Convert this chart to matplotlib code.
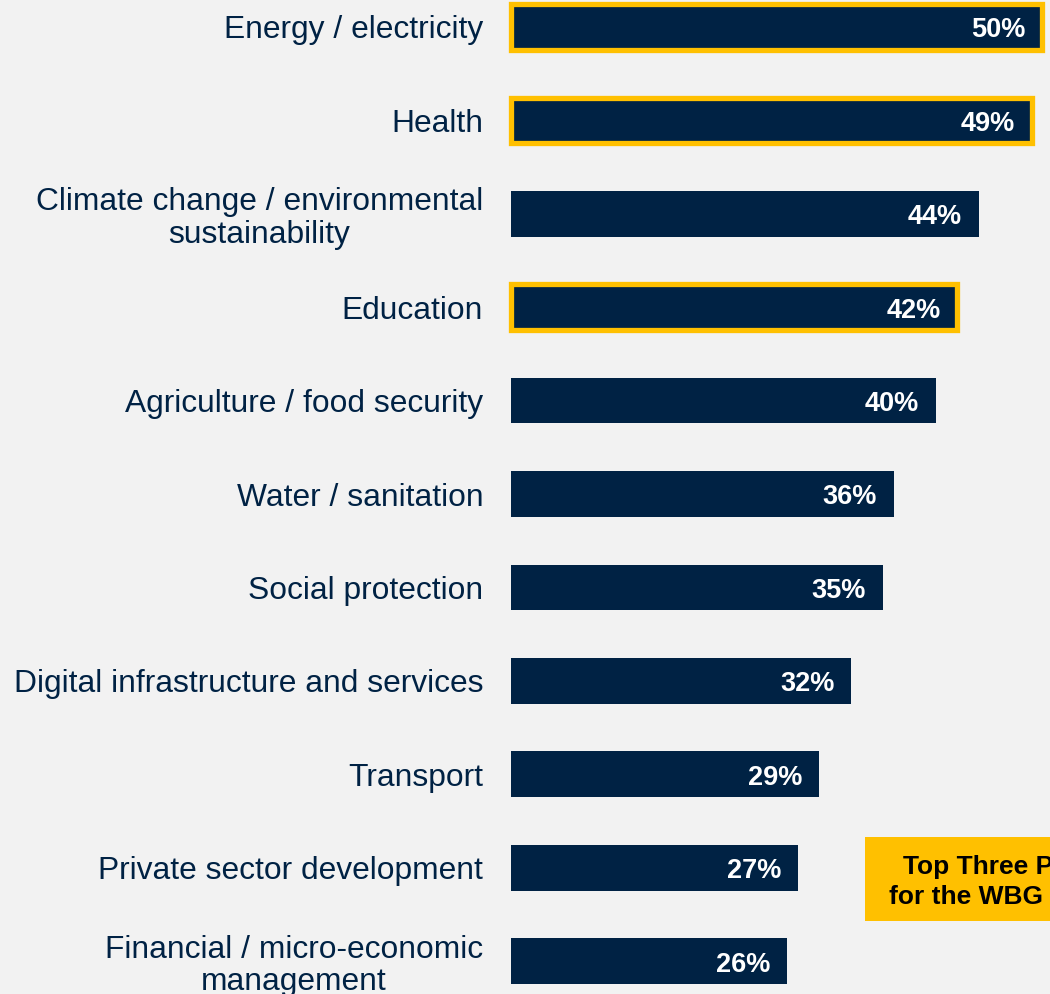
import matplotlib
matplotlib.use("Agg")
import matplotlib.pyplot as plt
from matplotlib.patches import Rectangle

categories = [
    "Energy / electricity",
    "Health",
    "Climate change / environmental\nsustainability",
    "Education",
    "Agriculture / food security",
    "Water / sanitation",
    "Social protection",
    "Digital infrastructure and services",
    "Transport",
    "Private sector development",
    "Financial / micro-economic\nmanagement",
]
values = [50, 49, 44, 42, 40, 36, 35, 32, 29, 27, 26]
top_three = ["Energy / electricity", "Health", "Education"]

NAVY = "#002244"
GOLD = "#FFC000"
BG = "#F2F2F2"

plt.rcParams["font.family"] = ["Liberation Sans", "DejaVu Sans"]

fig = plt.figure(figsize=(10.5, 9.94), dpi=100, facecolor=BG)
ax = fig.add_axes([511 / 1050, 0, 1 - 511 / 1050, 1], facecolor=BG)

y = list(range(len(categories)))
bars = ax.barh(y, values, height=0.49, color=NAVY, zorder=2)
for bar, cat in zip(bars, categories):
    if cat in top_three:
        bar.set_edgecolor(GOLD)
        bar.set_linewidth(3.8)
        bar.set_clip_on(False)

for yi, v in zip(y, values):
    ax.annotate(f"{v}%", xy=(v, yi), xytext=(-12, -2.5), textcoords="offset points",
                ha="right", va="center", color="white", fontsize=19.5,
                fontweight="bold", zorder=3)

ax.set_xlim(0, 539 / 10.625)
ax.set_ylim(10.353, -0.289)
ax.set_yticks(y)
ax.set_yticklabels(categories, fontsize=22.9, color=NAVY, linespacing=1.12)
for lbl in ax.get_yticklabels():
    lbl.set_multialignment("center")
ax.tick_params(axis="y", length=0, pad=20)
ax.tick_params(axis="x", length=0, labelbottom=False)
for s in ax.spines.values():
    s.set_visible(False)

# call-out box in the lower right corner
fig.patches.append(Rectangle((865 / 1050, 1 - 921 / 994), 200 / 1050, 84 / 994,
                             transform=fig.transFigure, facecolor=GOLD,
                             edgecolor="none", zorder=5))
fig.text(903 / 1050, 1 - 867 / 994, "Top Three Priorities", ha="left", va="center",
         fontsize=19, fontweight="bold", color="black", zorder=6)
fig.text(889 / 1050, 1 - 897 / 994, "for the WBG", ha="left", va="center",
         fontsize=19, fontweight="bold", color="black", zorder=6)

fig.savefig("out.png", dpi=100, facecolor=BG)
